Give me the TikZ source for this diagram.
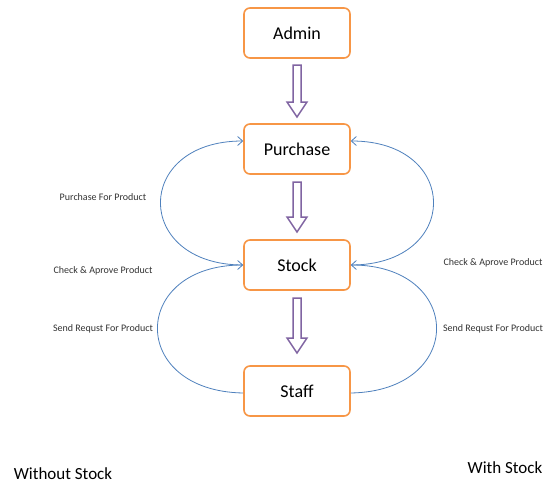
\documentclass[tikz,border=0pt]{standalone}
\usepackage{fontspec}
\setmainfont{Carlito}
\usetikzlibrary{arrows.meta}
\definecolor{boxorange}{HTML}{F79646}
\definecolor{arrpurple}{HTML}{8064A2}
\definecolor{curveblue}{HTML}{4F81BD}
\tikzset{
  box/.style={draw=boxorange, line width=1.6pt, rounded corners=6pt, fill=white,
    minimum width=106pt, minimum height=50pt, inner sep=0pt,
    font=\fontsize{18}{21}\selectfont},
  hollow/.style={draw=arrpurple, line width=1.5pt, line join=miter},
  flow/.style={draw=curveblue, line width=0.8pt, -{Straight Barb[length=5pt,width=9pt]}},
  lbl/.style={font=\fontsize{10}{12}\selectfont, text=black!80, inner sep=0pt},
  big/.style={font=\fontsize{17}{20}\selectfont, inner sep=0pt}
}
\newcommand\hollowarrow[3]{%
  \draw[hollow] (#1-4,#2) -- (#1+4,#2) -- (#1+4,#3-15) -- (#1+10,#3-15) -- (#1,#3)
     -- (#1-10,#3-15) -- (#1-4,#3-15) -- cycle;}
\begin{document}
\begin{tikzpicture}[x=1pt,y=-1pt]
\useasboundingbox[fill=white] (0,0) rectangle (547,485);
\node[box] (admin) at (297,33) {Admin};
\node[box] (purchase) at (297,149) {Purchase};
\node[box] (stock) at (297,265) {Stock};
\node[box] (staff) at (297,391) {Staff};
\hollowarrow{297}{65}{117}
\hollowarrow{297}{182}{232}
\hollowarrow{297}{298}{353}
% left curves
\draw[flow] (stock.west) .. controls (133,265) and (133,141) .. ([yshift=8pt]purchase.west);
\draw[flow] ([yshift=-2pt]staff.west) .. controls (128,391) and (130,265) .. (stock.west);
% right curves
\draw[flow] (stock.east) .. controls (461,265) and (461,141) .. ([yshift=8pt]purchase.east);
\draw[flow] ([yshift=-2pt]staff.east) .. controls (466,391) and (464,265) .. (stock.east);
\node[lbl] (l1) at (103,197) {Purchase For Product};
\node[lbl] (l2) at (103,271) {Check \& Aprove Product};
\node[lbl] (l3) at (103,329) {Send Requst For Product};
\node[lbl] (r2) at (493,263) {Check \& Aprove Product};
\node[lbl] (r3) at (493,329) {Send Requst For Product};
\node[big] (wo) at (63,474) {Without Stock};
\node[big] (w) at (505,468) {With Stock};
\end{tikzpicture}
\end{document}
